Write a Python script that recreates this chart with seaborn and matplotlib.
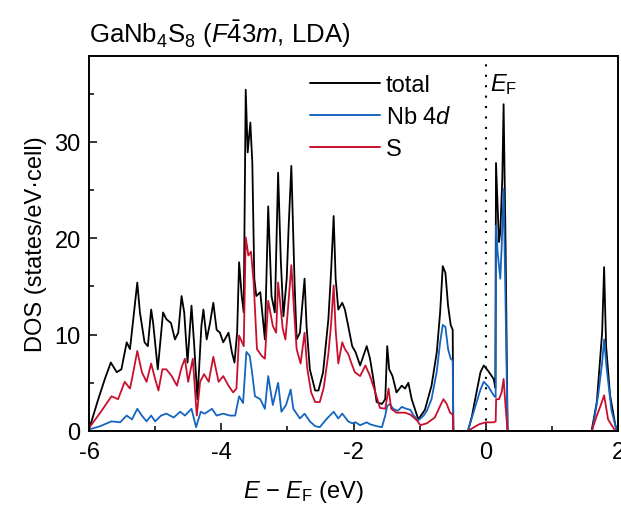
import matplotlib
matplotlib.use("Agg")
import matplotlib.pyplot as plt
import seaborn as sns
import pandas as pd
from matplotlib.ticker import MultipleLocator

# ---------------- data ----------------
energy_total = [
    -6.00, -5.98, -5.86, -5.76, -5.67, -5.58, -5.51, -5.43, -5.38, -5.33,
    -5.27, -5.23, -5.16, -5.11, -5.06, -5.03, -4.96, -4.88, -4.83, -4.76,
    -4.70, -4.65, -4.60, -4.56, -4.51, -4.45, -4.41, -4.36, -4.30, -4.27,
    -4.22, -4.17, -4.12, -4.07, -4.02, -3.97, -3.89, -3.84, -3.80, -3.76,
    -3.73, -3.69, -3.66, -3.63, -3.60, -3.56, -3.53, -3.50, -3.47, -3.41,
    -3.38, -3.34, -3.29, -3.24, -3.19, -3.14, -3.10, -3.06, -3.01, -2.98,
    -2.94, -2.89, -2.86, -2.81, -2.74, -2.71, -2.66, -2.58, -2.53, -2.46,
    -2.38, -2.34, -2.30, -2.27, -2.23, -2.17, -2.13, -2.08, -2.02, -1.97,
    -1.90, -1.85, -1.80, -1.75, -1.70, -1.65, -1.57, -1.52, -1.49, -1.46,
    -1.41, -1.35, -1.27, -1.22, -1.17, -1.12, -1.02, -0.92, -0.82, -0.74,
    -0.69, -0.65, -0.61, -0.57, -0.53, -0.50, -0.49, -0.27, -0.21, -0.16,
    -0.08, -0.03, 0.04, 0.12, 0.145, 0.155, 0.20, 0.22, 0.25, 0.27,
    0.30, 0.33, 1.60, 1.68, 1.73, 1.76, 1.79, 1.82, 1.88, 1.96,
    1.99, 2.00]
dos_total = [
    0.3, 0.6, 3.3, 5.4, 7.1, 6.1, 6.4, 9.2, 8.5, 11.6,
    15.4, 12.3, 9.2, 8.8, 12.6, 11.2, 6.4, 12.3, 11.6, 11.2,
    9.5, 10.2, 14.0, 12.3, 7.1, 13.0, 9.0, 3.3, 10.9, 12.6,
    9.5, 11.2, 13.3, 10.5, 10.2, 9.2, 10.2, 8.2, 7.1, 10.2,
    17.5, 14.0, 12.3, 35.4, 28.9, 32.0, 27.8, 15.8, 14.0, 14.4,
    12.3, 9.5, 23.3, 14.0, 12.3, 26.8, 17.8, 11.9, 15.8, 21.3,
    27.5, 15.1, 9.5, 10.2, 15.8, 10.9, 6.4, 4.2, 4.2, 6.1,
    11.6, 16.4, 22.3, 15.8, 12.6, 13.3, 12.6, 10.9, 8.8, 8.2,
    6.8, 7.8, 8.8, 7.5, 5.4, 3.0, 2.8, 3.3, 8.8, 6.4,
    5.7, 4.0, 4.7, 4.4, 5.0, 3.3, 1.2, 2.2, 4.7, 8.2,
    12.3, 17.1, 16.4, 13.0, 11.0, 10.5, 0.0, 0.0, 1.5, 3.3,
    6.1, 6.8, 6.2, 5.4, 4.5, 27.8, 19.6, 20.6, 26.1, 33.9,
    19.2, 0.0, 0.0, 3.0, 7.5, 10.2, 17.0, 8.8, 3.7, 0.6,
    0.0, 0.0]

energy_nb = [
    -6.00, -5.98, -5.83, -5.66, -5.53, -5.43, -5.35, -5.27, -5.20, -5.13,
    -5.06, -5.00, -4.91, -4.83, -4.72, -4.62, -4.55, -4.45, -4.38, -4.31,
    -4.25, -4.14, -4.07, -3.97, -3.87, -3.79, -3.73, -3.67, -3.62, -3.57,
    -3.54, -3.49, -3.41, -3.34, -3.29, -3.22, -3.14, -3.09, -3.02, -2.95,
    -2.91, -2.81, -2.74, -2.66, -2.58, -2.51, -2.40, -2.30, -2.23, -2.17,
    -2.08, -2.02, -1.97, -1.90, -1.80, -1.75, -1.65, -1.57, -1.52, -1.49,
    -1.45, -1.40, -1.33, -1.27, -1.20, -1.14, -1.09, -1.02, -0.94, -0.89,
    -0.82, -0.74, -0.69, -0.65, -0.61, -0.57, -0.53, -0.50, -0.49, -0.27,
    -0.16, -0.08, -0.03, 0.04, 0.12, 0.15, 0.157, 0.18, 0.22, 0.24,
    0.27, 0.30, 0.33, 1.61, 1.70, 1.76, 1.79, 1.83, 1.90, 1.98,
    2.00]
dos_nb = [
    0.0, 0.2, 0.5, 1.0, 0.9, 1.6, 1.2, 2.3, 1.6, 1.0,
    1.6, 1.0, 1.6, 1.8, 1.4, 2.0, 1.6, 2.3, 0.4, 2.0,
    1.8, 2.3, 1.6, 1.8, 1.6, 1.6, 3.6, 2.9, 8.2, 7.8,
    6.4, 3.6, 3.3, 2.3, 5.7, 2.7, 5.0, 2.0, 2.7, 4.3,
    2.3, 1.3, 1.8, 1.0, 0.5, 0.4, 1.3, 2.0, 1.3, 1.8,
    1.0, 0.8, 0.9, 0.6, 0.9, 0.7, 0.5, 0.4, 1.6, 2.6,
    2.8, 2.3, 2.1, 2.5, 2.3, 2.2, 1.6, 1.1, 1.6, 2.1,
    3.3, 6.2, 9.2, 11.0, 10.8, 8.5, 7.5, 7.3, 0.0, 0.0,
    2.5, 4.3, 5.1, 4.6, 3.7, 3.5, 21.3, 18.5, 15.8, 19.0,
    25.1, 13.0, 0.0, 0.0, 3.7, 7.1, 9.5, 6.4, 2.2, 0.0,
    0.0]

energy_s = [
    -6.00, -5.98, -5.83, -5.66, -5.56, -5.46, -5.38, -5.33, -5.27, -5.20,
    -5.13, -5.06, -5.00, -4.95, -4.89, -4.83, -4.75, -4.67, -4.60, -4.55,
    -4.50, -4.43, -4.37, -4.32, -4.26, -4.19, -4.12, -4.04, -3.97, -3.89,
    -3.82, -3.77, -3.73, -3.66, -3.63, -3.59, -3.55, -3.51, -3.46, -3.39,
    -3.34, -3.29, -3.22, -3.17, -3.14, -3.07, -3.03, -3.00, -2.94, -2.90,
    -2.86, -2.80, -2.74, -2.70, -2.64, -2.58, -2.51, -2.45, -2.38, -2.34,
    -2.30, -2.27, -2.23, -2.17, -2.13, -2.08, -2.03, -1.98, -1.90, -1.82,
    -1.75, -1.67, -1.60, -1.52, -1.47, -1.43, -1.35, -1.22, -1.14, -1.04,
    -0.99, -0.89, -0.77, -0.69, -0.64, -0.59, -0.54, -0.50, -0.49, -0.27,
    -0.20, -0.10, 0.00, 0.12, 0.15, 0.157, 0.20, 0.24, 0.27, 0.30,
    0.33, 1.60, 1.68, 1.73, 1.79, 1.85, 1.96, 2.00]
dos_s = [
    0.2, 0.5, 1.9, 3.6, 3.3, 5.1, 4.4, 6.1, 8.3, 6.1,
    5.1, 7.0, 5.4, 4.2, 6.4, 6.4, 5.7, 4.7, 6.6, 7.5,
    5.1, 7.5, 1.6, 5.1, 5.9, 5.1, 7.7, 5.1, 5.7, 4.7,
    4.0, 4.4, 9.9, 8.8, 20.1, 18.2, 18.6, 15.4, 8.5, 7.8,
    7.5, 13.5, 10.9, 10.2, 15.4, 10.6, 9.5, 11.9, 17.2, 12.6,
    8.5, 7.0, 10.2, 6.5, 4.0, 3.0, 3.0, 4.5, 8.0, 11.0,
    15.1, 10.5, 7.0, 9.2, 8.5, 8.0, 7.0, 6.1, 5.7, 6.8,
    5.7, 4.0, 2.4, 2.3, 4.4, 2.3, 1.9, 1.9, 1.7, 1.1,
    0.6, 0.8, 1.4, 2.6, 3.3, 2.8, 1.9, 1.7, 0.0, 0.0,
    0.3, 0.7, 0.9, 0.9, 1.0, 3.3, 3.3, 4.0, 5.4, 2.5,
    0.0, 0.0, 1.6, 2.5, 3.7, 1.2, 0.0, 0.0]

series_labels = ["total", "Nb 4$d$", "S"]
series_colors = ["#000000", "#1565c0", "#c8102e"]
x_ticks = [-6, -4, -2, 0, 2]
y_ticks = [0, 10, 20, 30]

# ---------------- figure ----------------
sns.set_style("ticks")
plt.rcParams["font.family"] = ["Liberation Sans", "DejaVu Sans"]
plt.rcParams["mathtext.fontset"] = "custom"
plt.rcParams["mathtext.rm"] = "Liberation Sans"
plt.rcParams["mathtext.it"] = "Liberation Sans:italic"
plt.rcParams["mathtext.bf"] = "Liberation Sans:bold"
plt.rcParams["axes.unicode_minus"] = False
for key in ["text.color", "axes.labelcolor", "xtick.color", "ytick.color",
            "axes.edgecolor"]:
    plt.rcParams[key] = "black"
FS = 17

fig = plt.figure(figsize=(6.21, 5.10), dpi=100)
ax = fig.add_axes([89 / 621, 1 - 432 / 510, 529 / 621, 375 / 510])

series = [(energy_total, dos_total), (energy_nb, dos_nb), (energy_s, dos_s)]
for (ex, dy), lab, col in zip(series, series_labels, series_colors):
    df = pd.DataFrame({"E": ex, "DOS": dy})
    sns.lineplot(data=df, x="E", y="DOS", color=col, lw=1.3, label=lab,
                 estimator=None, sort=False, ax=ax)

ax.axvline(0, color="black", lw=1.5, ls=(0, (1, 4)), zorder=1)

ax.set_xlim(-6, 2)
ax.set_ylim(0, 38.9)
ax.set_xticks(x_ticks)
ax.set_yticks(y_ticks)
ax.xaxis.set_minor_locator(MultipleLocator(1))
ax.yaxis.set_minor_locator(MultipleLocator(5))
ax.tick_params(which="both", direction="in", top=False, right=False,
               labelsize=FS, width=1.1, colors="black")
ax.tick_params(axis="x", which="major", pad=7)
ax.tick_params(axis="y", which="major", pad=6)
ax.tick_params(which="major", length=6)
ax.tick_params(which="minor", length=3.5)
for sp in ax.spines.values():
    sp.set_linewidth(1.4)
    sp.set_visible(True)
    sp.set_color("black")

ax.set_xlabel(r"$E$ $-$ $E_\mathrm{F}$ (eV)", fontsize=FS)
ax.xaxis.set_label_coords(0.405, -0.125)
ax.set_ylabel("DOS (states/eV\u00b7cell)", fontsize=FS, labelpad=5)

ax.set_title(r"GaNb$_4$S$_8$ ($F\bar{4}3m$, LDA)", loc="left",
             fontsize=18.5, pad=10)

ax.text(0.07, 35.4, r"$E_\mathrm{F}$", fontsize=FS, ha="left", va="baseline")

leg = ax.legend(loc="upper left", bbox_to_anchor=(0.418, 0.952),
                frameon=False, fontsize=FS, handlelength=2.95,
                handletextpad=0.25, labelspacing=0.42, borderpad=0,
                borderaxespad=0)
for h in leg.get_lines():
    h.set_linewidth(1.4)

fig.savefig("out.png", dpi=100)
